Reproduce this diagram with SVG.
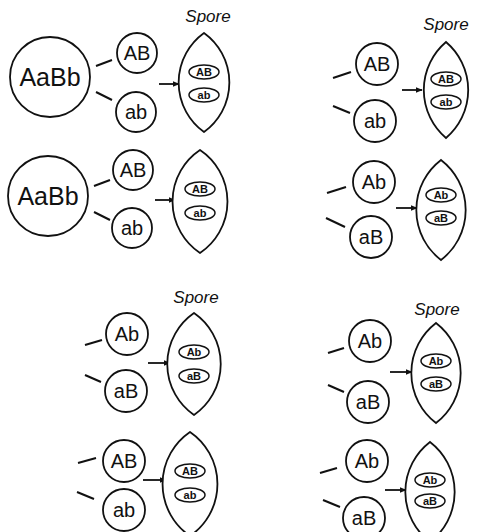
<svg xmlns="http://www.w3.org/2000/svg" width="478" height="532" viewBox="0 0 478 532">
<defs>
<style>
.c{fill:#fff;stroke:#111;stroke-width:1.8}
.o{fill:#fff;stroke:#111;stroke-width:1.5}
.l{fill:#fff;stroke:#111;stroke-width:1.8}
.t{font-family:"Liberation Sans",Arial,sans-serif;fill:#111;text-anchor:middle}
.big{font-size:25px}
.med{font-size:20px}
.sm{font-size:11px;font-weight:bold}
.sp{font-family:"Liberation Sans",Arial,sans-serif;font-style:italic;font-size:17px;fill:#111;text-anchor:middle}
.k{stroke:#111;stroke-width:2;fill:none}
.a{stroke:#111;stroke-width:1.8;fill:none;marker-end:url(#ah)}
</style>
<marker id="ah" viewBox="0 0 10 10" refX="9" refY="5" markerWidth="4" markerHeight="4" orient="auto" markerUnits="strokeWidth">
<path d="M0,1 L10,5 L0,9 Z" fill="#111"/>
</marker>
</defs>
<rect width="478" height="532" fill="#fff"/>

<g id="connectors">
<line class="k" x1="96" y1="66" x2="112" y2="60"/>
<line class="k" x1="96" y1="92" x2="112" y2="100"/>
<line class="a" x1="159" y1="84" x2="179" y2="84"/>
<line class="k" x1="94" y1="186" x2="110" y2="180"/>
<line class="k" x1="94" y1="212" x2="110" y2="220"/>
<line class="a" x1="155" y1="200" x2="175" y2="200"/>
<line class="k" x1="333" y1="78" x2="351" y2="72"/>
<line class="k" x1="333" y1="106" x2="350" y2="113"/>
<line class="a" x1="402" y1="90" x2="422" y2="90"/>
<line class="k" x1="327" y1="193" x2="346" y2="187"/>
<line class="k" x1="326" y1="218" x2="345" y2="227"/>
<line class="a" x1="396" y1="208" x2="417" y2="208"/>
<line class="k" x1="85" y1="345" x2="102" y2="340"/>
<line class="k" x1="85" y1="375" x2="101" y2="382"/>
<line class="a" x1="148" y1="363" x2="170" y2="363"/>
<line class="k" x1="78" y1="463" x2="96" y2="458"/>
<line class="k" x1="77" y1="492" x2="94" y2="499"/>
<line class="a" x1="143" y1="480" x2="166" y2="480"/>
<line class="k" x1="328" y1="353" x2="344" y2="348"/>
<line class="k" x1="328" y1="385" x2="344" y2="392"/>
<line class="a" x1="390" y1="372" x2="412" y2="372"/>
<line class="k" x1="320" y1="473" x2="337" y2="468"/>
<line class="k" x1="323" y1="500" x2="340" y2="507"/>
<line class="a" x1="385" y1="490" x2="406" y2="490"/>
</g>

<!-- Top-left, row 1 -->
<g id="p1-parent"><circle class="c" cx="50" cy="77" r="40"/><text class="t big" x="50" y="86">AaBb</text></g>
<g id="p1-AB"><circle class="c" cx="137" cy="53" r="20"/><text class="t med" x="137" y="60">AB</text></g>
<g id="p1-ab"><circle class="c" cx="136" cy="112" r="20"/><text class="t med" x="136" y="119">ab</text></g>
<g id="p1-spore">
<text class="sp" x="208" y="22">Spore</text>
<path class="l" d="M204,33 A61,61 0 0,0 204,132 A61,61 0 0,0 204,33 Z"/>
<ellipse class="o" cx="204" cy="72" rx="15" ry="7"/><text class="t sm" x="204" y="76">AB</text>
<ellipse class="o" cx="204" cy="95" rx="15" ry="7"/><text class="t sm" x="204" y="99">ab</text>
</g>

<!-- Top-left, row 2 -->
<g id="p2-parent"><circle class="c" cx="48" cy="196" r="40"/><text class="t big" x="48" y="205">AaBb</text></g>
<g id="p2-AB"><circle class="c" cx="133" cy="170" r="20"/><text class="t med" x="133" y="177">AB</text></g>
<g id="p2-ab"><circle class="c" cx="132" cy="228" r="20"/><text class="t med" x="132" y="235">ab</text></g>
<g id="p2-spore">
<path class="l" d="M200,150 A62,62 0 0,0 200,253 A62,62 0 0,0 200,150 Z"/>
<ellipse class="o" cx="200" cy="189" rx="15" ry="7"/><text class="t sm" x="200" y="193">AB</text>
<ellipse class="o" cx="200" cy="213" rx="15" ry="7"/><text class="t sm" x="200" y="217">ab</text>
</g>

<!-- Top-right, row 1 -->
<g id="p3-AB"><circle class="c" cx="377" cy="64" r="21"/><text class="t med" x="377" y="71">AB</text></g>
<g id="p3-ab"><circle class="c" cx="375" cy="121" r="21"/><text class="t med" x="375" y="128">ab</text></g>
<g id="p3-spore">
<text class="sp" x="446" y="30">Spore</text>
<path class="l" d="M446,42 A63,63 0 0,0 446,138 A63,63 0 0,0 446,42 Z"/>
<ellipse class="o" cx="446" cy="79" rx="15" ry="7"/><text class="t sm" x="446" y="83">AB</text>
<ellipse class="o" cx="446" cy="102" rx="15" ry="7"/><text class="t sm" x="446" y="106">ab</text>
</g>

<!-- Top-right, row 2 -->
<g id="p4-Ab"><circle class="c" cx="374" cy="182" r="21"/><text class="t med" x="374" y="189">Ab</text></g>
<g id="p4-aB"><circle class="c" cx="371" cy="237" r="21"/><text class="t med" x="371" y="244">aB</text></g>
<g id="p4-spore">
<path class="l" d="M441,160 A63,63 0 0,0 441,260 A63,63 0 0,0 441,160 Z"/>
<ellipse class="o" cx="441" cy="195" rx="15" ry="7"/><text class="t sm" x="441" y="199">Ab</text>
<ellipse class="o" cx="441" cy="218" rx="15" ry="7"/><text class="t sm" x="441" y="222">aB</text>
</g>

<!-- Bottom-left, row 1 -->
<g id="p5-Ab"><circle class="c" cx="127" cy="334" r="21"/><text class="t med" x="127" y="341">Ab</text></g>
<g id="p5-aB"><circle class="c" cx="126" cy="391" r="21"/><text class="t med" x="126" y="398">aB</text></g>
<g id="p5-spore">
<text class="sp" x="196" y="303">Spore</text>
<path class="l" d="M194,313 A62,62 0 0,0 194,415 A62,62 0 0,0 194,313 Z"/>
<ellipse class="o" cx="194" cy="352" rx="15" ry="7"/><text class="t sm" x="194" y="356">Ab</text>
<ellipse class="o" cx="194" cy="376" rx="15" ry="7"/><text class="t sm" x="194" y="380">aB</text>
</g>

<!-- Bottom-left, row 2 -->
<g id="p6-AB"><circle class="c" cx="124" cy="461" r="21"/><text class="t med" x="124" y="468">AB</text></g>
<g id="p6-ab"><circle class="c" cx="124" cy="510" r="21"/><text class="t med" x="124" y="517">ab</text></g>
<g id="p6-spore">
<path class="l" d="M190,432 A63,63 0 0,0 190,536 A63,63 0 0,0 190,432 Z"/>
<ellipse class="o" cx="190" cy="471" rx="15" ry="7"/><text class="t sm" x="190" y="475">AB</text>
<ellipse class="o" cx="190" cy="495" rx="15" ry="7"/><text class="t sm" x="190" y="499">ab</text>
</g>

<!-- Bottom-right, row 1 -->
<g id="p7-Ab"><circle class="c" cx="370" cy="341" r="21"/><text class="t med" x="370" y="348">Ab</text></g>
<g id="p7-aB"><circle class="c" cx="368" cy="402" r="21"/><text class="t med" x="368" y="409">aB</text></g>
<g id="p7-spore">
<text class="sp" x="437" y="315">Spore</text>
<path class="l" d="M436,323 A63,63 0 0,0 436,423 A63,63 0 0,0 436,323 Z"/>
<ellipse class="o" cx="436" cy="361" rx="15" ry="7"/><text class="t sm" x="436" y="365">Ab</text>
<ellipse class="o" cx="436" cy="384" rx="15" ry="7"/><text class="t sm" x="436" y="388">aB</text>
</g>

<!-- Bottom-right, row 2 -->
<g id="p8-Ab"><circle class="c" cx="367" cy="461" r="21"/><text class="t med" x="367" y="468">Ab</text></g>
<g id="p8-aB"><circle class="c" cx="364" cy="518" r="21"/><text class="t med" x="364" y="525">aB</text></g>
<g id="p8-spore">
<path class="l" d="M430,442 A63,63 0 0,0 430,542 A63,63 0 0,0 430,442 Z"/>
<ellipse class="o" cx="430" cy="480" rx="15" ry="7"/><text class="t sm" x="430" y="484">Ab</text>
<ellipse class="o" cx="430" cy="501" rx="15" ry="7"/><text class="t sm" x="430" y="505">aB</text>
</g>
</svg>
